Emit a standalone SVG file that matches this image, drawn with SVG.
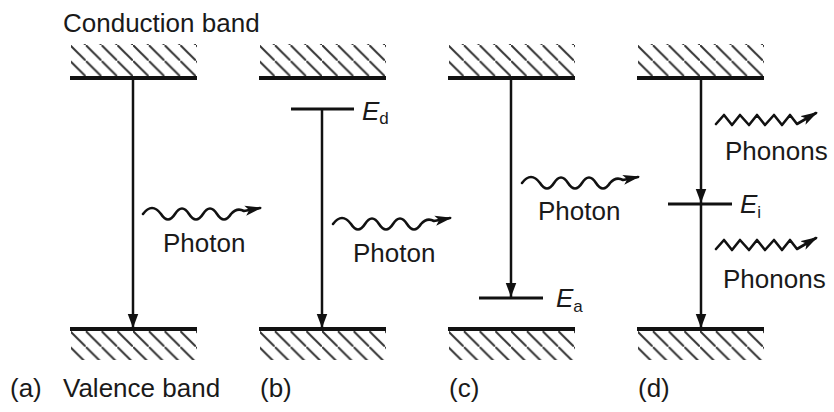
<svg xmlns="http://www.w3.org/2000/svg" width="834" height="412" viewBox="0 0 834 412">
<style>
  text { font-family: "Liberation Sans", Arial, sans-serif; fill: #1a1a1a; }
  .lbl { font-size: 26px; }
  .sym { font-size: 26px; font-style: italic; }
  .sub { font-size: 17px; font-style: normal; }
  .bar { stroke: #111; stroke-width: 4; }
  .lvl { stroke: #111; stroke-width: 3; }
  .tr { stroke: #111; stroke-width: 2.5; fill: none; }
  .wave { stroke: #111; stroke-width: 2.6; fill: none; stroke-linejoin: round; stroke-linecap: round; }
  .hatch { fill: url(#hatch); }
  .hatchB { fill: url(#hatchB); }
</style>
<defs>
  <pattern id="hatch" patternUnits="userSpaceOnUse" x="259" y="45" width="15.75" height="15.75">
    <line x1="-1" y1="-1" x2="16.75" y2="16.75" stroke="#333" stroke-width="2"/>
  </pattern>
  <pattern id="hatchB" patternUnits="userSpaceOnUse" x="259" y="331" width="15.75" height="15.75">
    <line x1="-1" y1="-1" x2="16.75" y2="16.75" stroke="#333" stroke-width="2"/>
  </pattern>
  <marker id="ah" markerUnits="userSpaceOnUse" markerWidth="14" markerHeight="18" refX="16" refY="6" orient="auto" viewBox="0 0 16 12">
    <path d="M0,0 L16,6 L0,12 Z" fill="#111"/>
  </marker>
  <marker id="wh" markerUnits="userSpaceOnUse" markerWidth="17" markerHeight="11" refX="15" refY="5" orient="auto" viewBox="0 0 17 10">
    <path d="M0,0 L17,5 L0,10 L4,5 Z" fill="#111"/>
  </marker>
</defs>

<text class="lbl" x="63" y="32">Conduction band</text>

<g id="panel-a">
  <rect class="hatch" x="71" y="44" width="126" height="32"/>
  <line class="bar" x1="70" y1="78" x2="197" y2="78"/>
  <line class="bar" x1="70" y1="329" x2="197" y2="329"/>
  <rect class="hatchB" x="71" y="331" width="126" height="29"/>
  <text class="lbl" x="163" y="252">Photon</text>
  <text class="lbl" x="10" y="397">(a)</text>
  <text class="lbl" x="63" y="397">Valence band</text>
</g>

<g id="panel-b">
  <rect class="hatch" x="260" y="44" width="126" height="32"/>
  <line class="bar" x1="259" y1="78" x2="386" y2="78"/>
  <line class="bar" x1="259" y1="329" x2="386" y2="329"/>
  <rect class="hatchB" x="260" y="331" width="126" height="29"/>
  <line class="lvl" x1="291" y1="109" x2="354" y2="109"/>
  <text class="sym" x="362" y="120">E<tspan class="sub" dy="4">d</tspan></text>
  <text class="lbl" x="353" y="262">Photon</text>
  <text class="lbl" x="260" y="397">(b)</text>
</g>

<g id="panel-c">
  <rect class="hatch" x="449" y="44" width="126" height="32"/>
  <line class="bar" x1="448" y1="78" x2="575" y2="78"/>
  <line class="bar" x1="448" y1="329" x2="575" y2="329"/>
  <rect class="hatchB" x="449" y="331" width="126" height="29"/>
  <line class="lvl" x1="479" y1="298" x2="543" y2="298"/>
  <text class="sym" x="556" y="307">E<tspan class="sub" dy="5">a</tspan></text>
  <text class="lbl" x="538" y="220">Photon</text>
  <text class="lbl" x="449" y="397">(c)</text>
</g>

<g id="panel-d">
  <rect class="hatch" x="638" y="44" width="126" height="32"/>
  <line class="bar" x1="637" y1="78" x2="764" y2="78"/>
  <line class="bar" x1="637" y1="329" x2="764" y2="329"/>
  <rect class="hatchB" x="638" y="331" width="126" height="29"/>
  <line class="lvl" x1="668" y1="204" x2="732" y2="204"/>
  <text class="sym" x="740" y="213">E<tspan class="sub" dy="5">i</tspan></text>
  <text class="lbl" x="725" y="160">Phonons</text>
  <text class="lbl" x="723" y="288">Phonons</text>
  <text class="lbl" x="638" y="397">(d)</text>
</g>

<g id="connectors">
  <line class="tr" x1="133" y1="78" x2="133" y2="328" marker-end="url(#ah)"/>
  <line class="tr" x1="322" y1="109" x2="322" y2="328" marker-end="url(#ah)"/>
  <line class="tr" x1="511" y1="78" x2="511" y2="297" marker-end="url(#ah)"/>
  <line class="tr" x1="701" y1="78" x2="701" y2="203" marker-end="url(#ah)"/>
  <line class="tr" x1="701" y1="204" x2="701" y2="328" marker-end="url(#ah)"/>

  <path class="wave" d="M143,214 q9,-12 18,0 q7,11 14,0 q7,-11 14,0 q7,11 14,0 q7,-11 14,0 q7,11 14,0 q6,-7 13,-3 L260,208" marker-end="url(#wh)"/>
  <path class="wave" d="M333,224 q9,-12 18,0 q7,11 14,0 q7,-11 14,0 q7,11 14,0 q7,-11 14,0 q7,11 14,0 q6,-7 13,-3 L450,218" marker-end="url(#wh)"/>
  <path class="wave" d="M522,183 q9,-12 18,0 q7,11 14,0 q7,-11 14,0 q7,11 14,0 q7,-11 14,0 q7,11 14,0 q6,-7 13,-3 L638,177" marker-end="url(#wh)"/>

  <path class="wave" d="M716,124 L724,115 L732,125 L740,115 L749,125 L757,115 L765,125 L774,115 L782,125 L790,115 L797,124 L816,113" marker-end="url(#wh)"/>
  <path class="wave" d="M716,249 L724,240 L732,250 L740,240 L749,250 L757,240 L765,250 L774,240 L782,250 L790,240 L797,249 L816,238" marker-end="url(#wh)"/>
</g>
</svg>
